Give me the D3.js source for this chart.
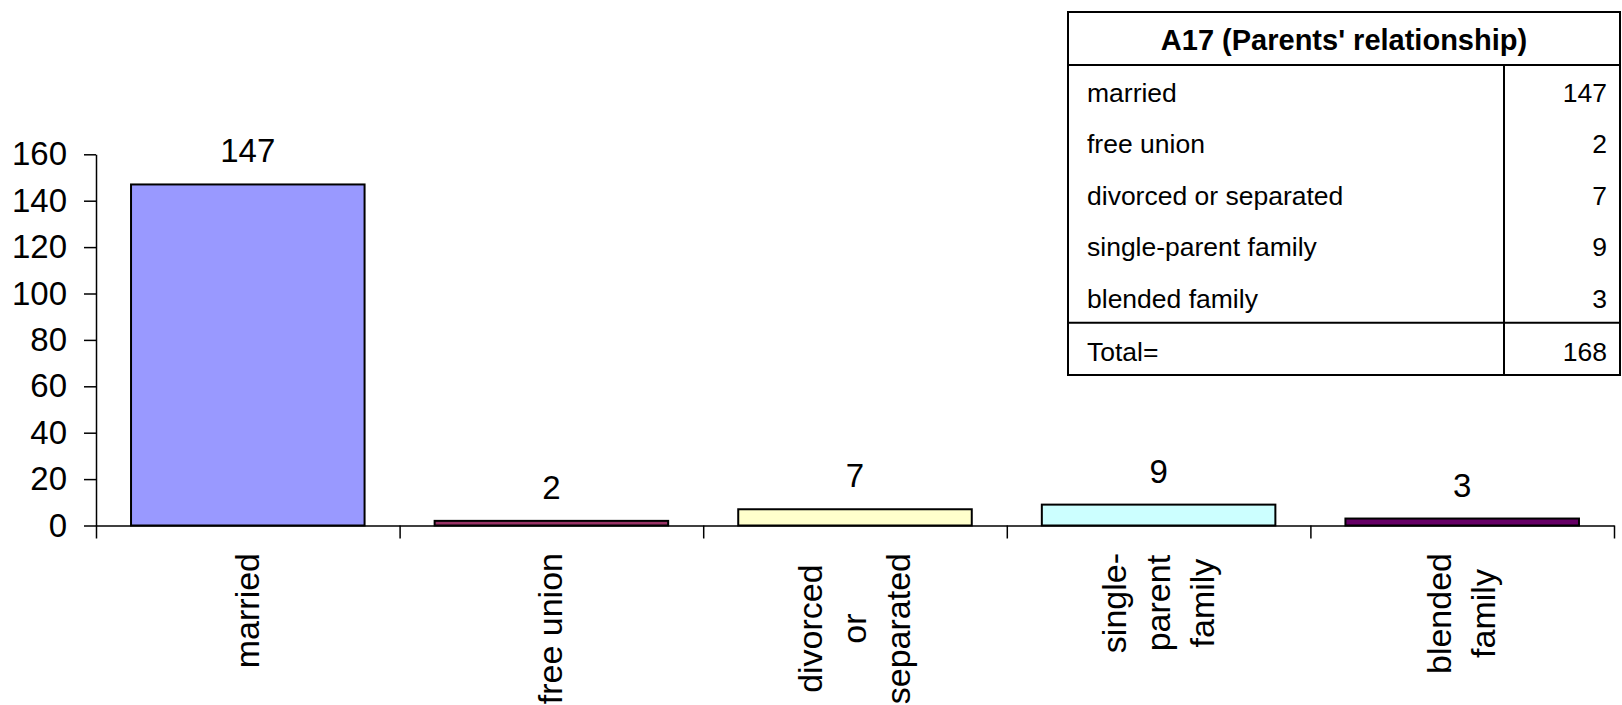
<!DOCTYPE html>
<html>
<head>
<meta charset="utf-8">
<script src="https://cdn.jsdelivr.net/npm/d3@7"></script>
<style>
  html, body { margin: 0; padding: 0; background: #ffffff; }
  svg { display: block; }
  text { font-family: "Liberation Sans", Arial, sans-serif; fill: #000; }
</style>
</head>
<body>
<svg id="chart" width="1622" height="705"></svg>
<script>
// ---- data ----
const categories = ["married", "free union", "divorced or separated", "single-parent family", "blended family"];
const values = [147, 2, 7, 9, 3];
const barColors = ["#9999FF", "#993366", "#FFFFCC", "#CCFFFF", "#660066"];
const labelLines = [["married"], ["free union"], ["divorced", "or", "separated"], ["single-", "parent", "family"], ["blended", "family"]];
const yTicks = [0, 20, 40, 60, 80, 100, 120, 140, 160];
const tableTitle = "A17 (Parents' relationship)";
const totalLabel = "Total=";

// ---- layout ----
const plot = { left: 96, right: 1614, top: 154.3, bottom: 525.5 };
const chartFont = 33;
const catFont = 34;

const svg = d3.select("#chart");

const x = d3.scaleBand().domain(categories).range([plot.left, plot.right]).paddingInner(0).paddingOuter(0);
const xEdge = d3.scaleLinear().domain([0, categories.length]).range([plot.left, plot.right]);
const y = d3.scaleLinear().domain([0, 160]).range([plot.bottom, plot.top]);

const barW = x.bandwidth() / 1.3;

// bars
svg.append("g").selectAll("rect").data(categories).join("rect")
  .attr("x", d => x(d) + (x.bandwidth() - barW) / 2)
  .attr("y", (d, i) => y(values[i]))
  .attr("width", barW)
  .attr("height", (d, i) => y(0) - y(values[i]))
  .attr("fill", (d, i) => barColors[i])
  .attr("stroke", "#000")
  .attr("stroke-width", 2);

// data labels
svg.append("g").selectAll("text").data(categories).join("text")
  .attr("x", d => x(d) + x.bandwidth() / 2)
  .attr("y", (d, i) => y(values[i]) - 22)
  .attr("text-anchor", "middle")
  .style("font-size", chartFont + "px")
  .text((d, i) => values[i]);

// y axis
const yAxis = svg.append("g")
  .attr("transform", `translate(${plot.left},0)`)
  .call(d3.axisLeft(y).tickValues(yTicks).tickSize(12).tickSizeOuter(0).tickPadding(17));
yAxis.selectAll("text").style("font-size", chartFont + "px").attr("fill", "#000").style("font-family", '"Liberation Sans", Arial, sans-serif');
yAxis.selectAll("line, path").attr("stroke", "#000").attr("stroke-width", 1.5);

// x axis (ticks at category boundaries)
const xAxis = svg.append("g")
  .attr("transform", `translate(0,${plot.bottom})`)
  .call(d3.axisBottom(xEdge).tickValues(d3.range(categories.length + 1)).tickSize(13).tickSizeOuter(0).tickFormat(""));
xAxis.selectAll("line, path").attr("stroke", "#000").attr("stroke-width", 1.5);

// category labels (rotated, multi-line, centered)
const lineH = 44;
const labelTop = 553;
const catG = svg.append("g");
categories.forEach((c, i) => {
  const lines = labelLines[i];
  const cx = x(c) + x.bandwidth() / 2;
  const n = lines.length;
  const tmp = catG.append("text").style("font-size", catFont + "px");
  let maxLen = 0;
  lines.forEach(l => { tmp.text(l); maxLen = Math.max(maxLen, tmp.node().getComputedTextLength()); });
  tmp.remove();
  const cy = labelTop + maxLen / 2;
  lines.forEach((l, j) => {
    const bx = cx + (j - (n - 1) / 2) * lineH + 11;
    catG.append("text")
      .attr("transform", `translate(${bx},${cy}) rotate(-90)`)
      .attr("text-anchor", "middle")
      .style("font-size", catFont + "px")
      .text(l);
  });
});

// ---- table ----
const T = { left: 1068, right: 1620, top: 12, headBottom: 65, divider: 1504, bodyBottom: 322.7, bottom: 375 };
const tableFont = 26.5;
const tg = svg.append("g");
const rowY = d3.scaleBand().domain(categories).range([T.headBottom, T.bodyBottom]);

tg.append("rect").attr("x", T.left).attr("y", T.top).attr("width", T.right - T.left).attr("height", T.bottom - T.top)
  .attr("fill", "#fff").attr("stroke", "#000").attr("stroke-width", 2);
tg.append("line").attr("x1", T.left).attr("x2", T.right).attr("y1", T.headBottom).attr("y2", T.headBottom).attr("stroke", "#000").attr("stroke-width", 2);
tg.append("line").attr("x1", T.left).attr("x2", T.right).attr("y1", T.bodyBottom).attr("y2", T.bodyBottom).attr("stroke", "#000").attr("stroke-width", 2);
tg.append("line").attr("x1", T.divider).attr("x2", T.divider).attr("y1", T.headBottom).attr("y2", T.bottom).attr("stroke", "#000").attr("stroke-width", 2);

tg.append("text")
  .attr("x", (T.left + T.right) / 2)
  .attr("y", 50)
  .attr("text-anchor", "middle")
  .style("font-size", "29px")
  .style("font-weight", "bold")
  .text(tableTitle);

categories.forEach((c, i) => {
  const by = rowY(c) + 36.7;
  tg.append("text").attr("x", 1087).attr("y", by).style("font-size", tableFont + "px").text(c);
  tg.append("text").attr("x", 1607).attr("y", by).attr("text-anchor", "end").style("font-size", tableFont + "px").text(values[i]);
});
tg.append("text").attr("x", 1087).attr("y", T.bodyBottom + 38.5).style("font-size", tableFont + "px").text(totalLabel);
tg.append("text").attr("x", 1607).attr("y", T.bodyBottom + 38.5).attr("text-anchor", "end").style("font-size", tableFont + "px").text(d3.sum(values));
</script>
</body>
</html>
